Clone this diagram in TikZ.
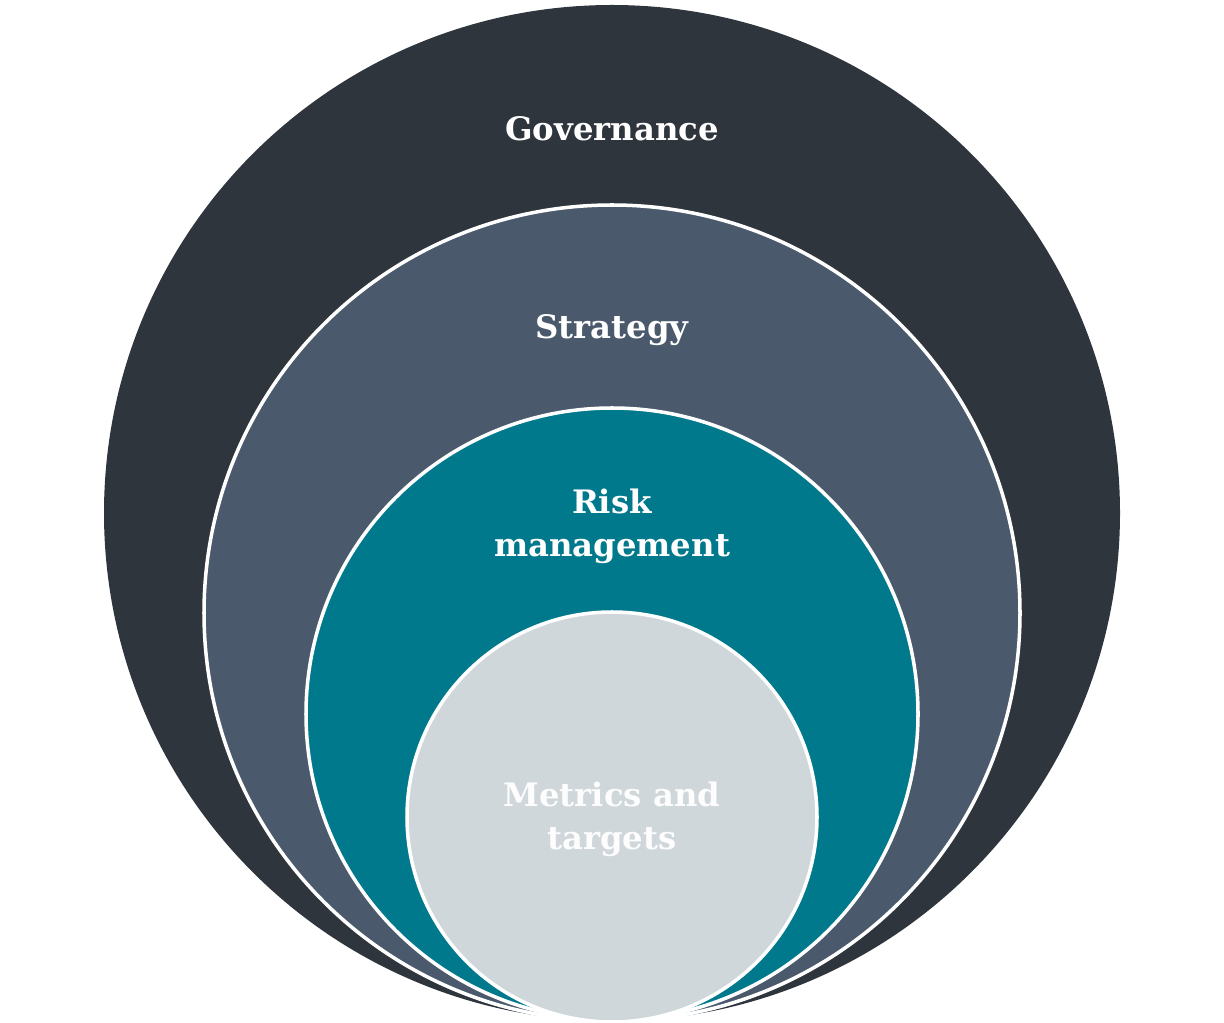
\documentclass[tikz,border=0pt]{standalone}
\usepackage{fontspec}
\setmainfont{DejaVu Serif}
\definecolor{govcol}{HTML}{2F353D}
\definecolor{stratcol}{HTML}{4A5A6C}
\definecolor{riskcol}{HTML}{00798C}
\definecolor{metcol}{HTML}{D0D7DB}
\tikzset{
  ring/.style={draw=white, line width=2pt},
  lbl/.style={text=white, font=\bfseries\fontsize{18.4}{24.3}\selectfont, align=center, inner sep=0pt}
}

\begin{document}
\begin{tikzpicture}[x=0.02cm, y=-0.02cm]
        \useasboundingbox (0,0) rectangle (1224,1023);
        \fill [govcol] (612,513) circle (508);
        \draw [ring, fill=stratcol] (612,613) circle (408);
        \draw [ring, fill=riskcol] (612,714) circle (306);
        \draw [ring, fill=metcol] (612,817) circle (205);
        \node [lbl] (gov) at (612,129) {Governance};
        \node [lbl] (strat) at (612,330) {Strategy};
        \node [lbl] (risk) at (612,526) {Risk\\management};
        \node [lbl, text=white!96!metcol] (met) at (612,819) {Metrics and\\targets};
\end{tikzpicture}
\end{document}
